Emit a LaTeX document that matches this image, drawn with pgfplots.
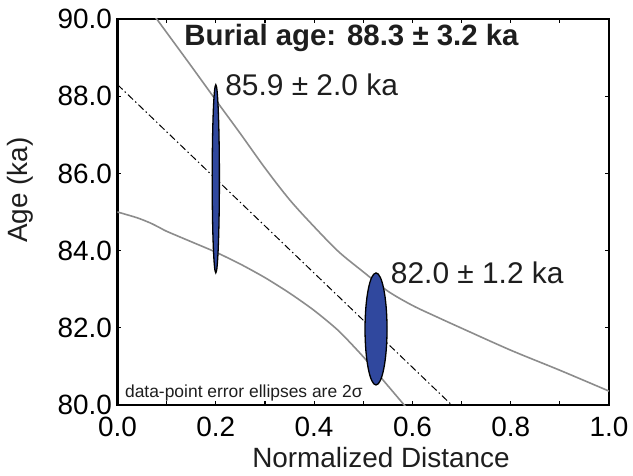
\documentclass[border=0pt]{standalone}
\usepackage{fontspec}
\setmainfont{Liberation Sans}
\usepackage{pgfplots}
\pgfplotsset{compat=1.18}
\definecolor{ellblue}{RGB}{48,72,158}
\definecolor{curvegray}{RGB}{140,140,140}
\definecolor{txt}{RGB}{30,30,30}
\pgfdeclareplotmark{ellA}{\pgfpathellipse{\pgfpointorigin}{\pgfpoint{3.6bp}{0bp}}{\pgfpoint{0bp}{94bp}}\pgfusepathqfillstroke}
\pgfdeclareplotmark{ellB}{\pgfpathellipse{\pgfpointorigin}{\pgfpoint{11bp}{0bp}}{\pgfpoint{0bp}{56bp}}\pgfusepathqfillstroke}
\begin{document}
\begin{tikzpicture}
\begin{axis}[
  scale only axis, width=491.5bp, height=386bp,
  xmin=0, xmax=1, ymin=80, ymax=90,
  xtick={0,0.2,0.4,0.6,0.8,1},
  minor xtick={0.1,0.3,0.5,0.7,0.9},
  ytick={80,82,84,86,88,90},
  tick align=inside,
  major tick length=4bp, minor tick length=4bp,
  axis line style={line width=2.2bp, black},
  tick style={line width=1.2bp, black},
  /pgf/number format/assume math mode=true,
  /pgf/number format/.cd, fixed, fixed zerofill, precision=1, /pgfplots/.cd,
  ticklabel style={font=\fontsize{28}{30}\selectfont, text=black},
  xticklabel style={yshift=-9bp},
  yticklabel style={xshift=-2bp},
  xlabel={Normalized Distance},
  ylabel={Age (ka)},
  xlabel style={font=\fontsize{28}{30}\selectfont, text=txt, at={(axis description cs:0.536,-0.137)}, anchor=center},
  ylabel style={font=\fontsize{28}{30}\selectfont, text=txt, at={(axis description cs:-0.198,0.557)}, anchor=center},
  clip=true,
]
\coordinate (O) at (rel axis cs:0,0);
% regression line
\addplot[black, line width=1bp, dash pattern=on 7bp off 3bp on 1.5bp off 3bp] coordinates {(0,88.3) (0.68,80)};
% upper confidence curve
\addplot[curvegray, line width=1.6bp, smooth, tension=0.5] coordinates {
  (0.07,90.17) (0.1,89.65) (0.15,88.78) (0.2,87.9) (0.25,87.03) (0.3,86.14)
  (0.35,85.32) (0.4,84.62) (0.45,83.97) (0.5,83.45) (0.55,82.95) (0.6,82.58)
  (0.65,82.28) (0.7,81.99) (0.8,81.42) (0.9,80.9) (1.0,80.36)};
% lower confidence curve
\addplot[curvegray, line width=1.6bp, smooth, tension=0.4] coordinates {
  (0,85.0) (0.04,84.85) (0.066,84.72) (0.085,84.6) (0.1,84.5) (0.15,84.23)
  (0.2,83.96) (0.25,83.65) (0.3,83.3) (0.35,82.9) (0.4,82.45) (0.45,81.92)
  (0.5,81.25) (0.55,80.5) (0.6,79.75)};
% data-point ellipses
\addplot[only marks, mark=ellA, mark options={fill=ellblue, draw=black, line width=1.3bp}] coordinates {(0.2,85.86)};
\addplot[only marks, mark=ellB, mark options={fill=ellblue, draw=black, line width=1.3bp}] coordinates {(0.526,81.97)};
% annotations
\node[anchor=center, font=\fontsize{29.5}{32}\selectfont\bfseries, text=txt, inner sep=0pt] at (axis cs:0.476,89.5) {Burial age: 88.3 ± 3.2 ka};
\node[anchor=west, font=\fontsize{30}{32}\selectfont, text=txt, inner sep=0pt] at (axis cs:0.219,88.29) {85.9 ± 2.0 ka};
\node[anchor=west, font=\fontsize{30}{32}\selectfont, text=txt, inner sep=0pt] at (axis cs:0.556,83.43) {82.0 ± 1.2 ka};
\node[anchor=base west, font=\fontsize{17.5}{20}\selectfont, text=txt, inner sep=0pt] at (axis cs:0.015,80.2) {data-point error ellipses are 2σ};
\end{axis}
\pgfresetboundingbox
\path[use as bounding box] ([shift={(-117.5bp,-71bp)}]O) rectangle ([shift={(515.5bp,405bp)}]O);
\end{tikzpicture}
\end{document}
